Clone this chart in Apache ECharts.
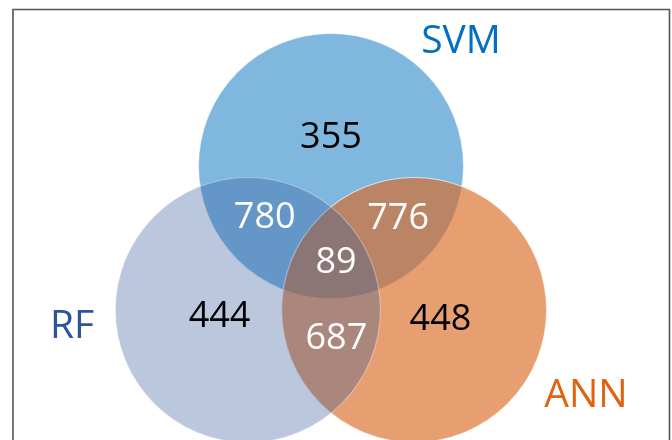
<!DOCTYPE html>
<html>
<head>
<meta charset="utf-8">
<script src="https://cdn.jsdelivr.net/npm/echarts@6/dist/echarts.min.js"></script>
<style>
html,body{margin:0;padding:0;background:#fff;}
#chart{width:672px;height:440px;}
</style>
</head>
<body>
<div id="chart"></div>
<script>
// ---- data ----
const setNames = ['SVM', 'RF', 'ANN'];
const setColors = ['#0070C0', '#2F5597', '#DB6C26'];
const setOpacity = [0.5, 0.33, 0.66];
const labelColors = ['#0070C0', '#2F5597', '#E0640F'];
const onlyCounts = [355, 444, 448];          // SVM only, RF only, ANN only
const pairNames = ['SVM∩RF', 'SVM∩ANN', 'RF∩ANN'];
const pairCounts = [780, 776, 687];
const allCount = 89;

// ---- layout (pixel-like data units) ----
const W = 672, H = 440;
const cx = 331, cy = 262;        // centroid of the three circles
const R = 132.5;                 // circle radius
const D = 96;                    // centroid -> circle centre distance
const angles = [90, 210, 330];   // SVM top, RF lower-left, ANN lower-right
function polar(dist, deg) {
  const a = deg * Math.PI / 180;
  return [cx + dist * Math.cos(a), cy - dist * Math.sin(a)];
}
const centers = angles.map(a => polar(D, a));
const onlyPos = [polar(124, 90), polar(124, 206), polar(124, 332)];
const pairPos = [polar(80, 146), polar(80, 33), polar(77, 274)];
const allPos = [cx + 5, cy + 1];
const namePos = [[461, 42], [72, 327], [586, 396]];

const circleSeries = [0, 2, 1].map((i, k) => ({
  type: 'scatter',
  z: 2 + k,
  symbol: 'circle',
  symbolSize: 2 * R,
  silent: true,
  itemStyle: { color: setColors[i], opacity: setOpacity[i], borderColor: '#ffffff', borderWidth: 1.2 },
  data: [{ name: setNames[i], value: centers[i] }]
}));

const FONT = '"Open Sans", "Noto Sans", sans-serif';
const labelData = [];
onlyCounts.forEach((v, i) => labelData.push({ value: [...onlyPos[i], v], label: { color: '#000000' } }));
pairCounts.forEach((v, i) => labelData.push({ value: [...pairPos[i], v], label: { color: '#ffffff' } }));
labelData.push({ value: [...allPos, allCount], label: { color: '#ffffff' } });

const nameData = setNames.map((n, i) => ({ name: n, value: namePos[i], label: { color: labelColors[i] } }));

const chart = echarts.init(document.getElementById('chart'), null, { renderer: 'canvas' });
chart.setOption({
  backgroundColor: '#ffffff',
  animation: false,
  grid: { left: 0, right: 0, top: 0, bottom: 0 },
  xAxis: { type: 'value', min: 0, max: W, show: false },
  yAxis: { type: 'value', min: 0, max: H, inverse: true, show: false },
  graphic: [{
    type: 'rect', z: 100,
    shape: { x: 13, y: 9.5, width: 656.5, height: 440 },
    style: { fill: 'none', stroke: '#555555', lineWidth: 1.6 }
  }],
  series: [
    ...circleSeries,
    {
      type: 'scatter', z: 10, symbolSize: 1, silent: true,
      itemStyle: { color: 'rgba(0,0,0,0)' },
      label: {
        show: true, position: 'inside', opacity: 1, textBorderWidth: 0,
        formatter: p => String(p.value[2]),
        fontFamily: FONT, fontSize: 36
      },
      data: labelData
    },
    {
      type: 'scatter', z: 10, symbolSize: 1, silent: true,
      itemStyle: { color: 'rgba(0,0,0,0)' },
      label: {
        show: true, position: 'inside', opacity: 1, textBorderWidth: 0,
        formatter: p => p.name,
        fontFamily: FONT, fontSize: 39
      },
      data: nameData
    }
  ]
});
</script>
</body>
</html>
